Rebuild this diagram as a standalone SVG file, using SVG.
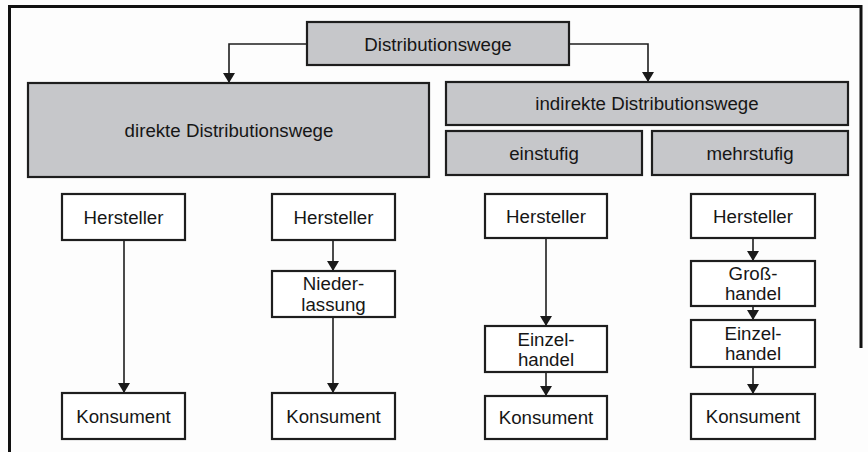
<svg xmlns="http://www.w3.org/2000/svg" width="868" height="452" viewBox="0 0 868 452">
<defs>
<marker id="ah" markerWidth="10" markerHeight="12" refX="10" refY="5" orient="auto" markerUnits="userSpaceOnUse" viewBox="0 0 10 10" preserveAspectRatio="none">
<path d="M0,0 L10,5 L0,10 Z" fill="#1a1a1a"/>
</marker>
</defs>
<style>
.hdr{fill:#c6c7ca;stroke:#1e1e1e;stroke-width:2.2}
.box{fill:#ffffff;stroke:#1e1e1e;stroke-width:2.2}
.t{font-family:"Liberation Sans",Arial,sans-serif;font-size:18.7px;fill:#161616;text-anchor:middle}
.c{fill:none;stroke:#1e1e1e;stroke-width:1.6;marker-end:url(#ah)}
.frame{fill:none;stroke:#111;stroke-width:3}
</style>
<rect x="0" y="0" width="868" height="452" fill="#fdfdfd"/>
<path class="frame" d="M9.5,452 L9.5,6.5 L861,6.5 L861,348"/>

<g id="connectors">
<path class="c" d="M307,44 L229,44 L229,83"/>
<path class="c" d="M569,44 L648,44 L648,82"/>
<path class="c" d="M124,240 L124,393"/>
<path class="c" d="M333,240 L333,271"/>
<path class="c" d="M333,317 L333,393"/>
<path class="c" d="M546,238 L546,326"/>
<path class="c" d="M546,372 L546,396"/>
<path class="c" d="M753,238 L753,261"/>
<path class="c" d="M753,306 L753,320"/>
<path class="c" d="M753,367 L753,394"/>
</g>

<g id="distributionswege">
<rect class="hdr" x="307" y="22" width="262" height="43"/>
<text class="t" x="438" y="51">Distributionswege</text>
</g>
<g id="direkte">
<rect class="hdr" x="28" y="83" width="401" height="94"/>
<text class="t" x="229" y="137">direkte Distributionswege</text>
</g>
<g id="indirekte">
<rect class="hdr" x="446" y="82" width="402" height="43"/>
<text class="t" x="647" y="110">indirekte Distributionswege</text>
</g>
<g id="einstufig">
<rect class="hdr" x="446" y="131" width="196" height="44"/>
<text class="t" x="544" y="160">einstufig</text>
</g>
<g id="mehrstufig">
<rect class="hdr" x="652" y="131" width="196" height="44"/>
<text class="t" x="750" y="160">mehrstufig</text>
</g>

<g id="hersteller1">
<rect class="box" x="62" y="194" width="123" height="46"/>
<text class="t" x="123.5" y="224">Hersteller</text>
</g>
<g id="konsument1">
<rect class="box" x="62" y="393" width="123" height="46"/>
<text class="t" x="123.5" y="423">Konsument</text>
</g>

<g id="hersteller2">
<rect class="box" x="272" y="194" width="123" height="46"/>
<text class="t" x="333.5" y="224">Hersteller</text>
</g>
<g id="niederlassung">
<rect class="box" x="272" y="271" width="123" height="46"/>
<text class="t" x="333.5" y="290">Nieder-</text>
<text class="t" x="333.5" y="310.5">lassung</text>
</g>
<g id="konsument2">
<rect class="box" x="272" y="393" width="123" height="46"/>
<text class="t" x="333.5" y="423">Konsument</text>
</g>

<g id="hersteller3">
<rect class="box" x="485" y="194" width="122" height="44"/>
<text class="t" x="546" y="223">Hersteller</text>
</g>
<g id="einzelhandel3">
<rect class="box" x="485" y="326" width="122" height="46"/>
<text class="t" x="546" y="345.5">Einzel-</text>
<text class="t" x="546" y="366">handel</text>
</g>
<g id="konsument3">
<rect class="box" x="485" y="396" width="122" height="43"/>
<text class="t" x="546" y="424">Konsument</text>
</g>

<g id="hersteller4">
<rect class="box" x="691" y="194" width="124" height="44"/>
<text class="t" x="753" y="223">Hersteller</text>
</g>
<g id="grosshandel">
<rect class="box" x="691" y="261" width="124" height="45"/>
<text class="t" x="753" y="280">Groß-</text>
<text class="t" x="753" y="300">handel</text>
</g>
<g id="einzelhandel4">
<rect class="box" x="691" y="320" width="124" height="47"/>
<text class="t" x="753" y="339.5">Einzel-</text>
<text class="t" x="753" y="360">handel</text>
</g>
<g id="konsument4">
<rect class="box" x="691" y="394" width="124" height="45"/>
<text class="t" x="753" y="423">Konsument</text>
</g>
</svg>
